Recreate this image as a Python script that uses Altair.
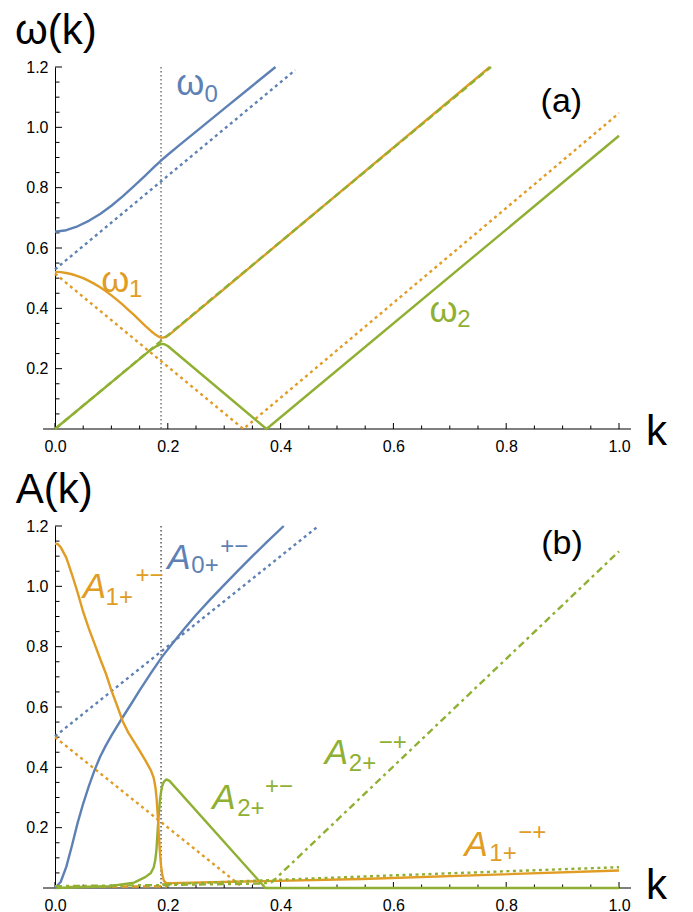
import altair as alt
import pandas as pd

BLUE = "#5E81B5"
ORANGE = "#E19C24"
GREEN = "#8FB032"
FONT = "Liberation Sans"

# ---------------- data: panel (a) ----------------
a_w0_k = [0, 0.02, 0.04, 0.06, 0.08, 0.10, 0.12, 0.14, 0.16, 0.175, 0.188, 0.20, 0.22, 0.25, 0.30, 0.35, 0.391]
a_w0_v = [0.654, 0.659, 0.672, 0.69, 0.713, 0.74, 0.771, 0.805, 0.84, 0.867, 0.89, 0.909, 0.94, 0.986, 1.062, 1.138, 1.2]
a_w0d_k = [0, 0.426]
a_w0d_v = [0.529, 1.19]
a_w1_k = [0, 0.01, 0.02, 0.03, 0.04, 0.05, 0.06, 0.07, 0.08, 0.09, 0.10, 0.11, 0.12, 0.13, 0.14,
          0.15, 0.16, 0.17, 0.178, 0.184, 0.188, 0.192, 0.197, 0.205, 0.771]
a_w1_v = [0.521, 0.520, 0.517, 0.513, 0.507, 0.500, 0.491, 0.481, 0.470, 0.457, 0.443, 0.428, 0.412,
          0.395, 0.378, 0.360, 0.342, 0.325, 0.313, 0.306, 0.303, 0.303, 0.306, 0.316, 1.2]
a_w1d_k = [0, 0.334, 1.0]
a_w1d_v = [0.515, 0.0, 1.047]
a_w2_k = [0, 0.17, 0.18, 0.186, 0.19, 0.194, 0.2, 0.375, 1.0]
a_w2_v = [0, 0.263, 0.275, 0.28, 0.282, 0.281, 0.275, 0.0, 0.972]
a_w2d_k = [0, 0.773]
a_w2d_v = [0, 1.2]
k_cross = [0.188]

# ---------------- data: panel (b) ----------------
b_a0_k = [0, 0.01, 0.02, 0.03, 0.04, 0.05, 0.06, 0.07, 0.08, 0.09, 0.10, 0.11, 0.12, 0.135,
          0.15, 0.17, 0.19, 0.21, 0.23, 0.25, 0.275, 0.30, 0.325, 0.35, 0.375, 0.4055]
b_a0_v = [0, 0.02, 0.07, 0.14, 0.215, 0.28, 0.338, 0.39, 0.435, 0.472, 0.505, 0.536, 0.566, 0.61,
          0.655, 0.712, 0.767, 0.815, 0.861, 0.905, 0.956, 1.005, 1.053, 1.10, 1.146, 1.2]
b_a0d_k = [0, 0.467]
b_a0d_v = [0.503, 1.2]
b_a1_k = [0, 0.005, 0.01, 0.02, 0.03, 0.04, 0.05, 0.06, 0.07, 0.08, 0.09, 0.10, 0.11, 0.12,
          0.13, 0.14, 0.15, 0.16, 0.17, 0.175, 0.178, 0.18, 0.182, 0.184, 0.186, 0.188, 0.19,
          0.193, 0.197, 0.205, 0.544, 1.0]
b_a1_v = [1.142, 1.14, 1.13, 1.095, 1.04, 0.98, 0.915, 0.86, 0.81, 0.76, 0.712, 0.655, 0.605, 0.553,
          0.515, 0.485, 0.455, 0.424, 0.39, 0.365, 0.335, 0.30, 0.245, 0.18, 0.12, 0.075, 0.045,
          0.024, 0.017, 0.016, 0.03, 0.058]
b_a1d_k = [0, 0.33]
b_a1d_v = [0.5, 0.006]
b_a1dash_k = [0, 0.2]
b_a1dash_v = [0.003, 0.006]
b_a2_k = [0, 0.096, 0.14, 0.16, 0.17, 0.175, 0.178, 0.18, 0.182, 0.184, 0.186, 0.188, 0.19,
          0.193, 0.1975, 0.203, 0.373, 1.0]
b_a2_v = [0, 0.006, 0.018, 0.036, 0.05, 0.068, 0.095, 0.13, 0.19, 0.245, 0.29, 0.318, 0.338,
          0.352, 0.36, 0.355, 0.0, 0.0]
b_a2dd_k = [0, 0.2, 0.37, 0.385, 1.0]
b_a2dd_v = [0.006, 0.01, 0.015, 0.02, 1.116]
b_a2dot_k = [0.19, 0.544, 1.0]
b_a2dot_v = [0.012, 0.038, 0.069]

# axis ticks
x_major = [0, 0.2, 0.4, 0.6, 0.8, 1.0]
x_minor = [0.05, 0.1, 0.15, 0.25, 0.3, 0.35, 0.45, 0.5, 0.55, 0.65, 0.7, 0.75, 0.85, 0.9, 0.95]
y_major = [0.2, 0.4, 0.6, 0.8, 1.0, 1.2]
y_minor = [0.05, 0.1, 0.15, 0.25, 0.3, 0.35, 0.45, 0.5, 0.55, 0.65, 0.7, 0.75,
           0.85, 0.9, 0.95, 1.05, 1.1, 1.15]

W = 564
H = 362
LW = 2.4

XS = alt.Scale(domain=[0, 1], nice=False, zero=False)
YS = alt.Scale(domain=[0, 1.2], nice=False, zero=False)
AX = alt.Axis(values=x_major, format=".1f", ticks=False, tickSize=0, domain=False,
              grid=False, labelFont=FONT, labelFontSize=16, labelColor="black",
              labelPadding=9, labelFlush=False, title=None)
AY = alt.Axis(values=y_major, format=".1f", ticks=False, tickSize=0, domain=True,
              domainColor="black", domainWidth=1, grid=False, labelFont=FONT,
              labelFontSize=16, labelColor="black", labelPadding=7, labelFlush=False,
              title=None)


def enc_x(field):
    return alt.X(field, type="quantitative", scale=XS, axis=AX)


def enc_y(field):
    return alt.Y(field, type="quantitative", scale=YS, axis=AY)


def line(ks, vs, color, dash=None, width=LW):
    df = pd.DataFrame({"k": ks, "v": vs, "i": list(range(len(ks)))})
    kw = dict(color=color, strokeWidth=width, strokeCap="butt", strokeJoin="round")
    if dash:
        kw["strokeDash"] = dash
    return alt.Chart(df).mark_line(**kw).encode(
        x=enc_x("k"), y=enc_y("v"), order=alt.Order("i:Q"))


def texts(rows, color, size, style="normal"):
    df = pd.DataFrame(rows, columns=["k", "v", "t"])
    return alt.Chart(df).mark_text(
        align="left", baseline="alphabetic", font=FONT, fontSize=size,
        fontStyle=style, color=color).encode(x=enc_x("k"), y=enc_y("v"), text="t:N")


def axes_layers():
    xt = pd.DataFrame({"t": x_major})
    xm = pd.DataFrame({"t": x_minor})
    yt = pd.DataFrame({"t": y_major})
    ym = pd.DataFrame({"t": y_minor})
    one = pd.DataFrame({"z": [0]})
    return [
        alt.Chart(one).mark_rule(color="black", strokeWidth=1).encode(
            x=alt.value(-12), x2=alt.value(W + 12), y=alt.value(H)),
        alt.Chart(xt).mark_rule(color="black", strokeWidth=1).encode(
            x=enc_x("t"), y=alt.value(H), y2=alt.value(H - 6)),
        alt.Chart(xm).mark_rule(color="black", strokeWidth=1).encode(
            x=enc_x("t"), y=alt.value(H), y2=alt.value(H - 3.5)),
        alt.Chart(yt).mark_rule(color="black", strokeWidth=1).encode(
            y=enc_y("t"), x=alt.value(0), x2=alt.value(7)),
        alt.Chart(ym).mark_rule(color="black", strokeWidth=1).encode(
            y=enc_y("t"), x=alt.value(0), x2=alt.value(4.5)),
    ]


def vline(color, dash, width):
    df = pd.DataFrame({"k": k_cross})
    return alt.Chart(df).mark_rule(color=color, strokeDash=dash, strokeWidth=width).encode(
        x=enc_x("k"), y=alt.value(0), y2=alt.value(H))


DOT = [3, 3.5]
MINUS = "\u2212"

# ---------------- panel (a) ----------------
panel_a = alt.layer(
    *axes_layers(),
    vline("#555555", [1.5, 2.5], 1.2),
    line(a_w0d_k, a_w0d_v, BLUE, DOT),
    line(a_w1d_k, a_w1d_v, ORANGE, DOT),
    line(a_w0_k, a_w0_v, BLUE),
    line(a_w1_k, a_w1_v, ORANGE),
    line(a_w2_k, a_w2_v, GREEN),
    line(a_w2d_k, a_w2d_v, GREEN, [7, 4]),
    texts([[0.2150, 1.107, "ω"]], BLUE, 36),
    texts([[0.2650, 1.083, "0"]], BLUE, 24),
    texts([[0.0820, 0.454, "ω"]], ORANGE, 36),
    texts([[0.1310, 0.436, "1"]], ORANGE, 24),
    texts([[0.664, 0.3557, "ω"]], GREEN, 36),
    texts([[0.713, 0.337, "2"]], GREEN, 24),
    texts([[0.861, 1.051, "(a)"]], "black", 34),
    texts([[-0.071, 1.275, "ω(k)"]], "black", 42),
    texts([[1.048, -0.053, "k"]], "black", 42),
).properties(width=W, height=H)

# ---------------- panel (b) ----------------
panel_b = alt.layer(
    *axes_layers(),
    vline("black", [1.5, 2.5], 1.0),
    line(b_a0d_k, b_a0d_v, BLUE, DOT),
    line(b_a1d_k, b_a1d_v, ORANGE, DOT),
    line(b_a1dash_k, b_a1dash_v, ORANGE, [7, 4]),
    line(b_a2_k, b_a2_v, GREEN),
    line(b_a0_k, b_a0_v, BLUE),
    line(b_a1_k, b_a1_v, ORANGE),
    line(b_a2dot_k, b_a2dot_v, GREEN, DOT),
    line(b_a2dd_k, b_a2dd_v, GREEN, [7, 4, 3, 4]),
    texts([[0.049, 0.961, "A"]], ORANGE, 35, "italic"),
    texts([[0.0896, 0.938, "1+"]], ORANGE, 24),
    texts([[0.1427, 1.0106, "+" + MINUS]], ORANGE, 24),
    texts([[0.199, 1.059, "A"]], BLUE, 35, "italic"),
    texts([[0.2417, 1.0436, "0+"]], BLUE, 24),
    texts([[0.2929, 1.106, "+" + MINUS]], BLUE, 24),
    texts([[0.2788, 0.261, "A"], [0.4785, 0.4095, "A"]], GREEN, 35, "italic"),
    texts([[0.323, 0.2388, "2+"], [0.521, 0.387, "2+"]], GREEN, 24),
    texts([[0.3725, 0.31, "+" + MINUS], [0.574, 0.459, MINUS + "+"]], GREEN, 24),
    texts([[0.726, 0.1057, "A"]], ORANGE, 35, "italic"),
    texts([[0.770, 0.089, "1+"]], ORANGE, 24),
    texts([[0.8215, 0.1585, MINUS + "+"]], ORANGE, 24),
    texts([[0.862, 1.106, "(b)"]], "black", 34),
    texts([[-0.0695, 1.275, "A(k)"]], "black", 42),
    texts([[1.048, -0.037, "k"]], "black", 42),
).properties(width=W, height=H)

chart = alt.vconcat(panel_a, panel_b, spacing=97, bounds="flush").properties(
    padding={"left": 14, "top": 10, "right": 5, "bottom": 5},
    background="white",
).configure_view(stroke=None)

chart.save("out.html", embed_options={"renderer": "svg", "actions": False})
